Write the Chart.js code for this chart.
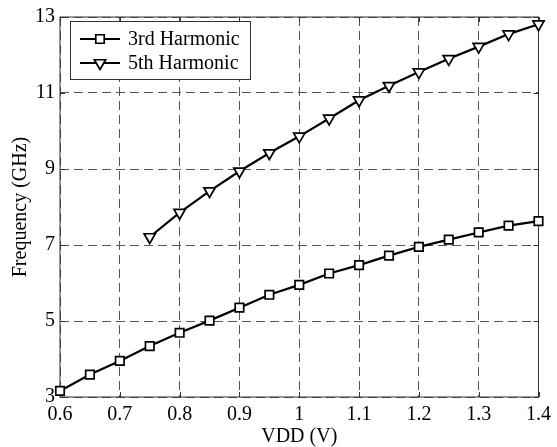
<!DOCTYPE html>
<html>
<head>
<meta charset="utf-8">
<script src="https://cdn.jsdelivr.net/npm/chart.js@4/dist/chart.umd.min.js"></script>
<style>
  html, body { margin: 0; padding: 0; background: #fff; }
  #wrap { width: 557px; height: 447px; }
</style>
</head>
<body>
<div id="wrap"><canvas id="chart" width="557" height="447"></canvas></div>
<script>
// VDD sweep (V)
const vdd3 = [0.6, 0.65, 0.7, 0.75, 0.8, 0.85, 0.9, 0.95, 1.0, 1.05, 1.1, 1.15, 1.2, 1.25, 1.3, 1.35, 1.4];
const freq3 = [3.16, 3.59, 3.95, 4.34, 4.69, 5.01, 5.35, 5.69, 5.95, 6.25, 6.47, 6.72, 6.95, 7.14, 7.33, 7.51, 7.63];

const vdd5 = [0.75, 0.8, 0.85, 0.9, 0.95, 1.0, 1.05, 1.1, 1.15, 1.2, 1.25, 1.3, 1.35, 1.4];
const freq5 = [7.21, 7.85, 8.42, 8.94, 9.42, 9.86, 10.33, 10.81, 11.19, 11.55, 11.90, 12.22, 12.55, 12.81];

const xTicks = [0.6, 0.7, 0.8, 0.9, 1.0, 1.1, 1.2, 1.3, 1.4];
const yTicks = [3, 5, 7, 9, 11, 13];

const FONT = '"Liberation Serif", "DejaVu Serif", serif';

function toPoints(xs, ys) {
    return xs.map((x, i) => ({x: x, y: ys[i]}));
}

// solid box + inward ticks like matlab
const framePlugin = {
    id: 'frame',
    beforeDatasetsDraw(chart) {
        const {ctx, chartArea: a, scales} = chart;
        ctx.save();
        ctx.strokeStyle = '#333';
        ctx.lineWidth = 1;
        ctx.setLineDash([]);
        ctx.strokeRect(a.left, a.top, a.right - a.left, a.bottom - a.top);
        ctx.beginPath();
        xTicks.forEach(v => {
            const px = Math.round(scales.x.getPixelForValue(v)) + 0.5;
            ctx.moveTo(px, a.bottom); ctx.lineTo(px, a.bottom - 5);
            ctx.moveTo(px, a.top); ctx.lineTo(px, a.top + 5);
        });
        yTicks.forEach(v => {
            const py = Math.round(scales.y.getPixelForValue(v)) + 0.5;
            ctx.moveTo(a.left, py); ctx.lineTo(a.left + 5, py);
            ctx.moveTo(a.right, py); ctx.lineTo(a.right - 5, py);
        });
        ctx.stroke();
        ctx.restore();
    }
};

// boxed legend in the upper left corner
const boxLegend = {
    id: 'boxLegend',
    afterDatasetsDraw(chart) {
        const {ctx} = chart;
        const x0 = 70, y0 = 21, w = 180, h = 58;
        ctx.save();
        ctx.fillStyle = '#fff';
        ctx.fillRect(x0, y0, w, h);
        ctx.strokeStyle = '#333';
        ctx.lineWidth = 1;
        ctx.strokeRect(x0 + 0.5, y0 + 0.5, w, h);
        chart.data.datasets.forEach((ds, i) => {
            const cy = y0 + 18 + i * 24;
            ctx.strokeStyle = '#000';
            ctx.lineWidth = ds.borderWidth;
            ctx.beginPath();
            ctx.moveTo(80, cy);
            ctx.lineTo(120, cy);
            ctx.stroke();
            ctx.fillStyle = '#fff';
            ctx.strokeStyle = '#000';
            ctx.lineWidth = ds.pointBorderWidth;
            Chart.helpers.drawPoint(ctx, {
                pointStyle: ds.pointStyle,
                radius: ds.pointRadius,
                rotation: ds.pointRotation || 0,
                borderWidth: ds.pointBorderWidth
            }, 100, cy);
            ctx.fillStyle = '#000';
            ctx.font = '20px ' + FONT;
            ctx.textBaseline = 'middle';
            ctx.textAlign = 'left';
            ctx.fillText(ds.label, 128, cy + 1);
        });
        ctx.restore();
    }
};

const ctx = document.getElementById('chart').getContext('2d');

new Chart(ctx, {
    type: 'line',
    data: {
        datasets: [
            {
                label: '3rd Harmonic',
                data: toPoints(vdd3, freq3),
                borderColor: '#000',
                borderWidth: 2.2,
                pointStyle: 'rect',
                pointRadius: 6,
                pointBorderWidth: 1.7,
                pointBackgroundColor: '#fff',
                pointBorderColor: '#000',
                fill: false,
                clip: false,
                tension: 0
            },
            {
                label: '5th Harmonic',
                data: toPoints(vdd5, freq5),
                borderColor: '#000',
                borderWidth: 2.2,
                pointStyle: 'triangle',
                pointRotation: 180,
                pointRadius: 6.5,
                pointBorderWidth: 1.7,
                pointBackgroundColor: '#fff',
                pointBorderColor: '#000',
                fill: false,
                clip: false,
                tension: 0
            }
        ]
    },
    options: {
        responsive: false,
        animation: false,
        events: [],
        layout: {padding: {top: 15, right: 15.5, left: 0, bottom: 0}},
        plugins: {
            legend: {display: false},
            tooltip: {enabled: false}
        },
        scales: {
            x: {
                type: 'linear',
                min: 0.6,
                max: 1.4,
                afterBuildTicks: s => { s.ticks = xTicks.map(v => ({value: v})); },
                afterFit: s => { s.height = 50; },
                ticks: {
                    color: '#000',
                    padding: 6,
                    font: {family: FONT, size: 20},
                    callback: v => String(Math.round(v * 10) / 10)
                },
                grid: {color: '#555', lineWidth: 1, drawTicks: false},
                border: {display: false, dash: [9, 5]},
                title: {
                    display: true,
                    text: 'VDD (V)',
                    color: '#000',
                    font: {family: FONT, size: 20, lineHeight: 1},
                    padding: {top: 0, bottom: 0}
                }
            },
            y: {
                type: 'linear',
                min: 3,
                max: 13,
                afterBuildTicks: s => { s.ticks = yTicks.map(v => ({value: v})); },
                afterFit: s => { s.width = 60; },
                ticks: {
                    color: '#000',
                    padding: 5,
                    font: {family: FONT, size: 20}
                },
                grid: {color: '#555', lineWidth: 1, drawTicks: false},
                border: {display: false, dash: [9, 5]},
                title: {
                    display: true,
                    text: 'Frequency (GHz)',
                    color: '#000',
                    font: {family: FONT, size: 20, lineHeight: 1.2},
                    padding: {top: 9, bottom: 0}
                }
            }
        }
    },
    plugins: [framePlugin, boxLegend]
});
</script>
</body>
</html>
